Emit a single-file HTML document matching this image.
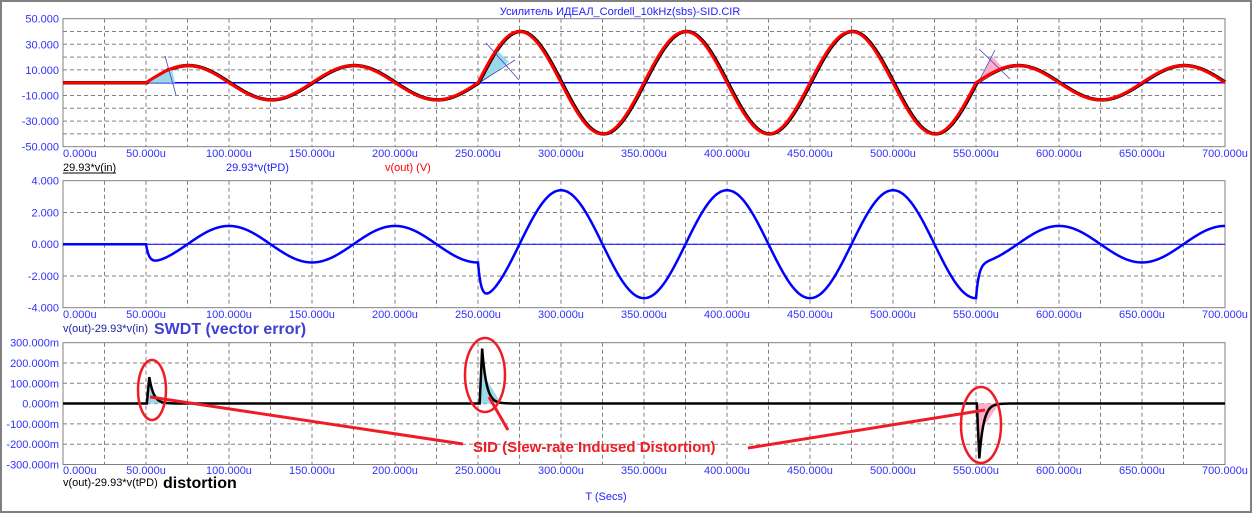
<!DOCTYPE html>
<html><head><meta charset="utf-8"><style>
html,body{margin:0;padding:0;background:#fff}
svg{display:block}
text{font-family:"Liberation Sans","DejaVu Sans",sans-serif}
</style></head><body>
<svg id="s" width="1253" height="513" xmlns="http://www.w3.org/2000/svg">
<rect x="1" y="1" width="1250" height="511" fill="#fff" stroke="#808080" stroke-width="2"/>
<g id="g"></g>
</svg>
<script>
const NS="http://www.w3.org/2000/svg";
const g=document.getElementById('g');
function el(n,a,t){const e=document.createElementNS(NS,n);for(const k in a)e.setAttribute(k,a[k]);if(t!==undefined)e.textContent=t;g.appendChild(e);return e;}
const X=t=>63+t*1162/700;
const L=63,R=1225;
const panels=[
 {top:18.7,bot:146.7,step:12.8,labs:["50.000","30.000","10.000","-10.000","-30.000","-50.000"],lstep:25.6,xl:157},
 {top:180.7,bot:307.7,step:31.75,labs:["4.000","2.000","0.000","-2.000","-4.000"],lstep:31.75,xl:318},
 {top:342.7,bot:464.5,step:20.3,labs:["300.000m","200.000m","100.000m","0.000m","-100.000m","-200.000m","-300.000m"],lstep:20.3,xl:474}
];
panels.forEach(p=>{
  for(let y=p.top+p.step;y<p.bot-1;y+=p.step)el('line',{x1:L,x2:R,y1:y,y2:y,stroke:'#808080','stroke-dasharray':'4,3'});
  for(let t=25;t<700;t+=25)el('line',{x1:X(t),x2:X(t),y1:p.top,y2:p.bot,stroke:'#808080','stroke-dasharray':'4,3'});
  el('rect',{x:L,y:p.top,width:R-L,height:p.bot-p.top,fill:'none',stroke:'#808080'});
  p.labs.forEach((s,i)=>el('text',{x:59,y:p.top+i*p.lstep+4,'text-anchor':'end','font-size':11,fill:'#3030ff'},s));
  for(let t=0;t<=700;t+=50){el('text',{x:t==0?63:X(t),y:p.xl,'text-anchor':t==0?'start':'middle','font-size':11,fill:'#3030ff'},t.toFixed(3)+'u');}
});
const A=t=>(t>=250&&t<550)?40:13.4;
const sIn=t=>t<50?0:A(t)*Math.sin(2*Math.PI*(t-50)/100);
const Y1=v=>82.7-v*1.28, Y2=v=>244.2-v*15.875, Y3=v=>403.5-v*0.2033;
function path(f,Y,t0,t1,dt){let d='';for(let t=t0;t<=t1+1e-9;t+=dt){d+=(d?'L':'M')+X(t).toFixed(2)+','+Y(f(t)).toFixed(2);}return d;}
el('line',{x1:L,x2:R,y1:82.7,y2:82.7,stroke:'#0000ff','stroke-width':1.5});
el('path',{d:path(t=>sIn(t-0.6),Y1,0,700,0.5),fill:'none',stroke:'#000','stroke-width':3.5});
el('polygon',{points:'148,82.7 172,69 175,82.7',fill:'#99d9ea'});
el('polygon',{points:'481,82.7 498,51 509,62',fill:'#99d9ea'});
el('polygon',{points:'979,82.7 992,56 1003,68',fill:'#ffaec9'});
[[165,56,176,95],[149,82,168,68],[486,43,519,80],[482,81,515,60],[979,49,1010,79],[978,83,995,50]].forEach(a=>el('line',{x1:a[0],y1:a[1],x2:a[2],y2:a[3],stroke:'#4040c0','stroke-width':0.8}));
el('path',{d:path(sIn,Y1,0,700,0.5),fill:'none',stroke:'#ff0000','stroke-width':3});
el('line',{x1:L,x2:R,y1:244.2,y2:244.2,stroke:'#0000ff','stroke-width':1});
const Ae=t=>(t>=250&&t<550)?3.4:1.15;
const tgt=t=>t<50?0:-Ae(t)*Math.cos(2*Math.PI*(t-50)/100);
function err(t){let t0=t>=550?550:t>=250?250:50;if(t<50)return 0;const prev=tgt(t0-0.01);const tau=1.8;return tgt(t)+(prev-tgt(t))*Math.exp(-(t-t0)/tau);}
el('path',{d:path(err,Y2,0,700,0.5),fill:'none',stroke:'#0000ff','stroke-width':2.5});
function spike(t,t0,amp){if(t<t0)return 0;const u=t-t0;if(u<1.5)return amp*u/1.5;return amp*Math.exp(-(u-1.5)/2.6);}
const d3=t=>spike(t,50.5,130)+spike(t,251,270)+spike(t,550.5,-270);
el('polygon',{points:`${X(50.5)},403.5 ${X(52)},${Y3(120)} ${X(53.5)},${Y3(60)} ${X(62)},403.5`,fill:'#99d9ea'});
el('polygon',{points:`${X(251)},403.5 ${X(252.5)},${Y3(250)} ${X(255)},${Y3(120)} ${X(264)},403.5`,fill:'#99d9ea'});
el('polygon',{points:`${X(550.5)},403.5 ${X(552)},${Y3(-250)} ${X(555)},${Y3(-110)} ${X(564)},403.5`,fill:'#ffaec9'});
el('path',{d:path(d3,Y3,0,700,0.25),fill:'none',stroke:'#000','stroke-width':2.5});
[[152,390,14,30],[485,375,20,37],[981,425,20,38]].forEach(a=>el('ellipse',{cx:a[0],cy:a[1],rx:a[2],ry:a[3],fill:'none',stroke:'#ee1c24','stroke-width':2.5}));
[[150,397,463,444],[489,397,508,430],[748,448,985,410]].forEach(a=>el('line',{x1:a[0],y1:a[1],x2:a[2],y2:a[3],stroke:'#ee1c24','stroke-width':3}));
el('text',{x:473,y:452,'font-size':15,'font-weight':'bold',fill:'#ee1c24'},'SID (Slew-rate Indused Distortion)');
el('text',{x:620,y:15,'text-anchor':'middle','font-size':11,fill:'#2020ff'},'Усилитель ИДЕАЛ_Cordell_10kHz(sbs)-SID.CIR');
el('text',{x:63,y:171,'font-size':11,fill:'#000'},'29.93*v(in)');
el('line',{x1:63,x2:116,y1:173,y2:173,stroke:'#000'});
el('text',{x:226,y:171,'font-size':11,fill:'#2020ff'},'29.93*v(tPD)');
el('text',{x:385,y:171,'font-size':11,fill:'#ff0000'},'v(out) (V)');
el('text',{x:63,y:332,'font-size':11,fill:'#2020a0'},'v(out)-29.93*v(in)');
el('text',{x:154,y:334,'font-size':16,'font-weight':'bold',fill:'#4040d0'},'SWDT (vector error)');
el('text',{x:63,y:486,'font-size':11,fill:'#000'},'v(out)-29.93*v(tPD)');
el('text',{x:163,y:488,'font-size':16,'font-weight':'bold',fill:'#000'},'distortion');
el('text',{x:606,y:500,'text-anchor':'middle','font-size':11,fill:'#2020ff'},'T (Secs)');
</script>
</body></html>
